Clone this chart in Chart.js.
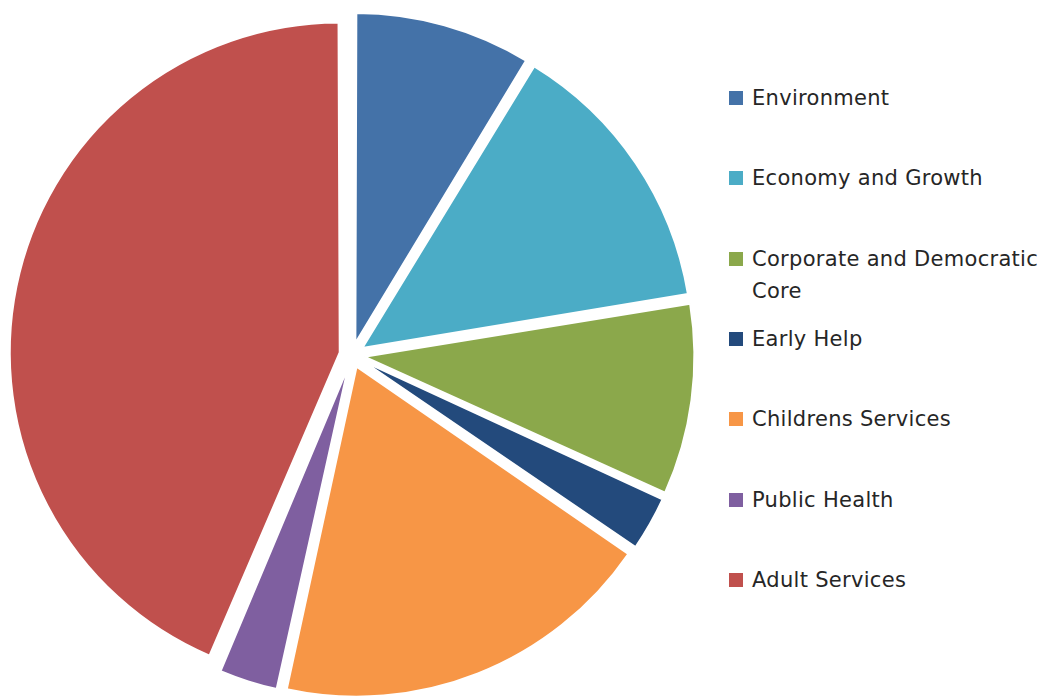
<!DOCTYPE html>
<html>
<head>
<meta charset="utf-8">
<script src="https://cdn.jsdelivr.net/npm/chart.js@4"></script>
<style>
  html, body { margin: 0; padding: 0; background: #fff; }
  body { width: 1043px; height: 699px; position: relative; overflow: hidden; }
  #wrap { position: absolute; left: 0; top: 0; width: 704px; height: 710px; }
  #legend { position: absolute; left: 729px; top: 0; width: 314px; height: 699px;
            font-family: "DejaVu Sans", sans-serif; font-size: 21px; letter-spacing: 0.3px; color: #262626; }
  .row { position: absolute; left: 0; display: flex; align-items: flex-start; }
  .sw { width: 14px; height: 14px; margin-top: 9px; margin-right: 9px; flex: none; }
  .tx { line-height: 32px; width: 300px; }
</style>
</head>
<body>
<div id="wrap"><canvas id="c"></canvas></div>
<div id="legend"></div>
<script>
const labels = ["Environment", "Economy and Growth", "Corporate and Democratic Core", "Early Help", "Childrens Services", "Public Health", "Adult Services"];
const values = [8.7, 13.7, 9.4, 2.8, 18.8, 3.0, 43.6];
const colors = ["#4472A8", "#4BACC6", "#8BA84B", "#234A7C", "#F79646", "#7F5FA0", "#C0504D"];

const EXPLODE = 12.5;   // outward shift of every slice, px
const PIE_R = 330;      // pie radius, px

// Chart.js enlarges the outer radius of an offset arc by (offset/4)*(1-sin(angle));
// shrink it back so every slice is a pure translation (as in an exploded Excel pie).
const uniformExplode = {
  id: 'uniformExplode',
  beforeDatasetsDraw(chart) {
    chart.getDatasetMeta(0).data.forEach(el => {
      const fix = 1 - Math.sin(Math.min(Math.PI, el.circumference));
      el.outerRadius = PIE_R - EXPLODE * fix;
    });
  }
};

new Chart(document.getElementById('c'), {
  type: 'pie',
  data: {
    labels: labels,
    datasets: [{
      data: values,
      backgroundColor: colors,
      borderColor: '#ffffff',
      borderWidth: 2,
      offset: 4 * EXPLODE
    }]
  },
  options: {
    responsive: true,
    maintainAspectRatio: false,
    animation: false,
    radius: PIE_R,
    layout: { padding: 0 },
    plugins: { legend: { display: false }, tooltip: { enabled: false } }
  },
  plugins: [uniformExplode]
});

const leg = document.getElementById('legend');
labels.forEach((l, i) => {
  const row = document.createElement('div');
  row.className = 'row';
  row.style.top = (82 + i * 80.3) + 'px';
  const sw = document.createElement('div');
  sw.className = 'sw';
  sw.style.background = colors[i];
  const tx = document.createElement('div');
  tx.className = 'tx';
  tx.textContent = l;
  row.appendChild(sw); row.appendChild(tx);
  leg.appendChild(row);
});
</script>
</body>
</html>
